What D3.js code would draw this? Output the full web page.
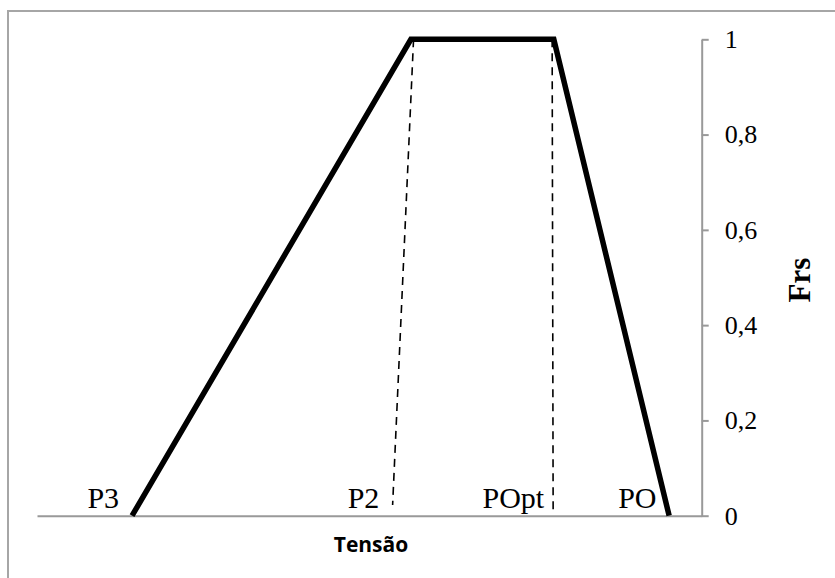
<!DOCTYPE html>
<html>
<head>
<meta charset="utf-8">
<script src="https://cdn.jsdelivr.net/npm/d3@7"></script>
<style>
  html, body { margin: 0; padding: 0; background: #fff; }
  svg { display: block; }
</style>
</head>
<body>
<svg id="chart" width="835" height="578"></svg>
<script>
// ---- Data ----
// Main membership curve (Tensão on x, Frs on y)
const curveX = [14.3, 56.25, 77.75, 95.1];
const curveY = [0, 1, 1, 0];
// Dashed guide lines
const dashP2X = [56.65, 53.5];
const dashP2Y = [1, 0.0225];
const dashPOptX = [77.5, 77.65];
const dashPOptY = [1, 0.012];
// Point labels
const pointLabels = ["P3", "P2", "POpt", "PO"];
const pointLabelX = [12.35, 51.5, 76.3, 93.2];
const pointLabelY = [0.016, 0.016, 0.016, 0.016];
// Y axis ticks
const yTickValues = [0, 0.2, 0.4, 0.6, 0.8, 1];
const yTickLabels = ["0", "0,2", "0,4", "0,6", "0,8", "1"];
const xTitle = "Tensão";
const yTitle = "Frs";

// ---- Chart ----
const svg = d3.select("#chart");
svg.append("rect").attr("width", 835).attr("height", 578).attr("fill", "#fff");

// outer frame (left and top visible)
svg.append("path")
  .attr("d", "M8,580 V11 H840")
  .attr("fill", "none")
  .attr("stroke", "#a6a6a6")
  .attr("stroke-width", 2);

const x = d3.scaleLinear().domain([0, 100]).range([37, 701.7]);
const y = d3.scaleLinear().domain([0, 1]).range([515.7, 39.3]);

// x axis line (no ticks)
const xAxis = d3.axisBottom(x).tickValues([]).tickSizeOuter(0);
const gx = svg.append("g").attr("transform", `translate(0,${y(0)})`).call(xAxis);
gx.select(".domain").attr("stroke", "#999").attr("stroke-width", 2);

// y axis on the right with ticks outward
const yAxis = d3.axisRight(y)
  .tickValues(yTickValues)
  .tickFormat((d, i) => yTickLabels[i])
  .tickSize(7)
  .tickSizeOuter(0)
  .tickPadding(16);
const gy = svg.append("g").attr("transform", `translate(${x(100)},0)`).call(yAxis);
gy.attr("font-family", null).attr("font-size", null);
gy.select(".domain").attr("stroke", "#999").attr("stroke-width", 2);
gy.selectAll(".tick line").attr("stroke", "#999").attr("stroke-width", 2);
gy.selectAll(".tick text")
  .attr("fill", "#000")
  .style("font-family", "'Liberation Serif', 'Times New Roman', serif")
  .style("font-size", "26px");

// main curve
const line = d3.line().x(d => x(d[0])).y(d => y(d[1]));
svg.append("path")
  .datum(curveX.map((v, i) => [v, curveY[i]]))
  .attr("d", line)
  .attr("fill", "none")
  .attr("stroke", "#000")
  .attr("stroke-width", 5.5)
  .attr("stroke-linejoin", "miter");

// dashed guides
[[dashP2X, dashP2Y], [dashPOptX, dashPOptY]].forEach(([xs, ys]) => {
  svg.append("path")
    .datum(xs.map((v, i) => [v, ys[i]]))
    .attr("d", line)
    .attr("fill", "none")
    .attr("stroke", "#000")
    .attr("stroke-width", 1.6)
    .attr("stroke-dasharray", "8,6");
});

// point labels
svg.append("g").selectAll("text")
  .data(pointLabels)
  .join("text")
  .attr("x", (d, i) => x(pointLabelX[i]))
  .attr("y", (d, i) => y(pointLabelY[i]))
  .attr("text-anchor", "end")
  .style("font-family", "'Liberation Serif', 'Times New Roman', serif")
  .style("font-size", "30px")
  .attr("fill", "#000")
  .text(d => d);

// x title
svg.append("text")
  .attr("x", 371)
  .attr("y", 552)
  .attr("text-anchor", "middle")
  .style("font-family", "'Open Sans', 'Liberation Sans', sans-serif")
  .style("font-weight", "bold")
  .style("font-size", "21px")
  .attr("fill", "#000")
  .text(xTitle);

// y title
svg.append("text")
  .attr("transform", "translate(810,280) rotate(-90)")
  .attr("text-anchor", "middle")
  .style("font-family", "'Liberation Serif', 'Times New Roman', serif")
  .style("font-weight", "bold")
  .style("font-size", "31px")
  .attr("fill", "#000")
  .text(yTitle);
</script>
</body>
</html>
